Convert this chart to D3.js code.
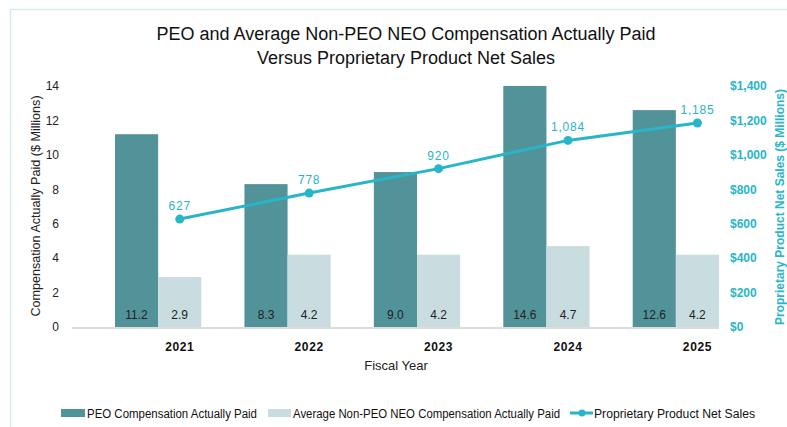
<!DOCTYPE html>
<html>
<head>
<meta charset="utf-8">
<script src="https://cdn.jsdelivr.net/npm/d3@7"></script>
<style>
  html, body { margin: 0; padding: 0; background: #fff; }
  svg { display: block; font-family: "Liberation Sans", Arial, Helvetica, sans-serif; }
</style>
</head>
<body>
<svg id="chart" width="787" height="427"></svg>
<script>
// Fiscal years and the values plotted for each
const years = ["2021", "2022", "2023", "2024", "2025"];
const peoPaid = [11.2, 8.3, 9.0, 14.6, 12.6];      // PEO compensation actually paid ($M)
const neoPaid = [2.9, 4.2, 4.2, 4.7, 4.2];         // average non-PEO NEO compensation ($M)
const netSales = [627, 778, 920, 1084, 1185];      // proprietary product net sales ($M)
const leftTicks = [0, 2, 4, 6, 8, 10, 12, 14];
const rightTicks = [0, 200, 400, 600, 800, 1000, 1200, 1400];

const titleLines = [
  "PEO and Average Non-PEO NEO Compensation Actually Paid",
  "Versus Proprietary Product Net Sales"
];
const seriesNames = [
  "PEO Compensation Actually Paid",
  "Average Non-PEO NEO Compensation Actually Paid",
  "Proprietary Product Net Sales"
];

const C = {
  peo: "#52939a",
  neo: "#c9dde0",
  sales: "#27b5c9",
  text: "#222",
  frame: "#d5ebee",
  base: "#dcdcdc"
};

const svg = d3.select("#chart");

// light frame along the top and left edges
svg.append("path")
  .attr("d", "M10.5,427 V9.5 H787")
  .attr("fill", "none")
  .attr("stroke", C.frame)
  .attr("stroke-width", 1.5);

// title
svg.append("g").selectAll("text").data(titleLines).join("text")
  .attr("x", 406)
  .attr("y", (d, i) => 40 + i * 24)
  .attr("text-anchor", "middle")
  .attr("font-size", 18)
  .attr("fill", "#111")
  .text(d => d);

// scales
const y = d3.scaleLinear().domain([0, 14]).range([327, 86]).clamp(true);
const y2 = d3.scaleLinear().domain([0, 1400]).range([327, 86]);
const x = d3.scaleBand().domain(years).range([115, 719]).paddingInner(1 / 3).paddingOuter(0);
const sub = d3.scaleBand().domain(["peo", "neo"]).range([0, x.bandwidth()]);
const cx = yr => x(yr) + sub("neo") + sub.bandwidth() / 2;

const rows = years.map((yr, i) => ({ yr, peo: peoPaid[i], neo: neoPaid[i], sales: netSales[i] }));

// bars
const groups = svg.append("g").selectAll("g").data(rows).join("g")
  .attr("transform", d => `translate(${x(d.yr)},0)`);

["peo", "neo"].forEach(key => {
  groups.append("rect")
    .attr("x", sub(key))
    .attr("width", sub.bandwidth())
    .attr("y", d => y(d[key]))
    .attr("height", d => y(0) - y(d[key]))
    .attr("fill", C[key]);
  groups.append("text")
    .attr("x", sub(key) + sub.bandwidth() / 2)
    .attr("y", 319)
    .attr("text-anchor", "middle")
    .attr("font-size", 12)
    .attr("fill", C.text)
    .text(d => d[key].toFixed(1));
});

// baseline
svg.append("line")
  .attr("x1", 72).attr("x2", 719)
  .attr("y1", y(0) + 1).attr("y2", y(0) + 1)
  .attr("stroke", C.base).attr("stroke-width", 2);

// left axis
const leftAxis = svg.append("g")
  .attr("transform", "translate(59,0)")
  .call(d3.axisLeft(y).tickValues(leftTicks).tickSize(0).tickPadding(0).tickFormat(d3.format("d")));
leftAxis.select(".domain").remove();
leftAxis.selectAll("text").attr("font-size", 12).attr("fill", C.text)
  .attr("font-family", "'Liberation Sans', Arial, sans-serif");

// right axis
const rightAxis = svg.append("g")
  .attr("transform", "translate(730,0)")
  .call(d3.axisRight(y2).tickValues(rightTicks).tickSize(0).tickPadding(0)
    .tickFormat(d => "$" + d3.format(",")(d)));
rightAxis.select(".domain").remove();
rightAxis.selectAll("text").attr("font-size", 12).attr("font-weight", "bold").attr("fill", C.sales)
  .attr("font-family", "'Liberation Sans', Arial, sans-serif");

// year labels
svg.append("g").selectAll("text").data(years).join("text")
  .attr("x", d => cx(d))
  .attr("y", 351)
  .attr("text-anchor", "middle")
  .attr("font-size", 12)
  .attr("font-weight", "bold")
  .attr("letter-spacing", 0.6)
  .attr("fill", "#111")
  .text(d => d);

// axis titles
svg.append("text")
  .attr("x", 396).attr("y", 370)
  .attr("text-anchor", "middle")
  .attr("font-size", 13)
  .attr("fill", C.text)
  .text("Fiscal Year");

svg.append("text")
  .attr("transform", "translate(40,206) rotate(-90)")
  .attr("text-anchor", "middle")
  .attr("font-size", 12.6)
  .attr("fill", C.text)
  .text("Compensation Actually Paid ($ Millions)");

svg.append("text")
  .attr("transform", "translate(784,207) rotate(-90)")
  .attr("text-anchor", "middle")
  .attr("font-size", 12)
  .attr("font-weight", "bold")
  .attr("fill", C.sales)
  .text("Proprietary Product Net Sales ($ Millions)");

// net sales line
const line = d3.line().x(d => cx(d.yr)).y(d => y2(d.sales));
svg.append("path")
  .datum(rows)
  .attr("d", line)
  .attr("fill", "none")
  .attr("stroke", C.sales)
  .attr("stroke-width", 3);

svg.append("g").selectAll("circle").data(rows).join("circle")
  .attr("cx", d => cx(d.yr))
  .attr("cy", d => y2(d.sales))
  .attr("r", 4.5)
  .attr("fill", C.sales);

svg.append("g").selectAll("text").data(rows).join("text")
  .attr("x", d => cx(d.yr))
  .attr("y", d => y2(d.sales) - 9)
  .attr("text-anchor", "middle")
  .attr("font-size", 12)
  .attr("letter-spacing", 0.8)
  .attr("fill", C.sales)
  .text(d => d3.format(",")(d.sales));

// legend
const legend = svg.append("g").attr("transform", "translate(0,413)");
const legendX = [61, 268, 570];
const legendTextX = [87, 293, 594];
const legendTextW = [170, 267, 161];

legend.append("rect").attr("x", legendX[0]).attr("y", -4).attr("width", 24).attr("height", 8).attr("fill", C.peo);
legend.append("rect").attr("x", legendX[1]).attr("y", -4).attr("width", 23).attr("height", 8).attr("fill", C.neo);
legend.append("line").attr("x1", legendX[2]).attr("x2", legendX[2] + 23)
  .attr("y1", 0).attr("y2", 0).attr("stroke", C.sales).attr("stroke-width", 3);
legend.append("circle").attr("cx", legendX[2] + 12).attr("cy", 0).attr("r", 3.5).attr("fill", C.sales);

legend.selectAll("text.lbl").data(seriesNames).join("text")
  .attr("class", "lbl")
  .attr("x", (d, i) => legendTextX[i])
  .attr("y", 4.5)
  .attr("font-size", 12.5)
  .attr("textLength", (d, i) => legendTextW[i])
  .attr("lengthAdjust", "spacingAndGlyphs")
  .attr("fill", "#111")
  .text(d => d);
</script>
</body>
</html>
